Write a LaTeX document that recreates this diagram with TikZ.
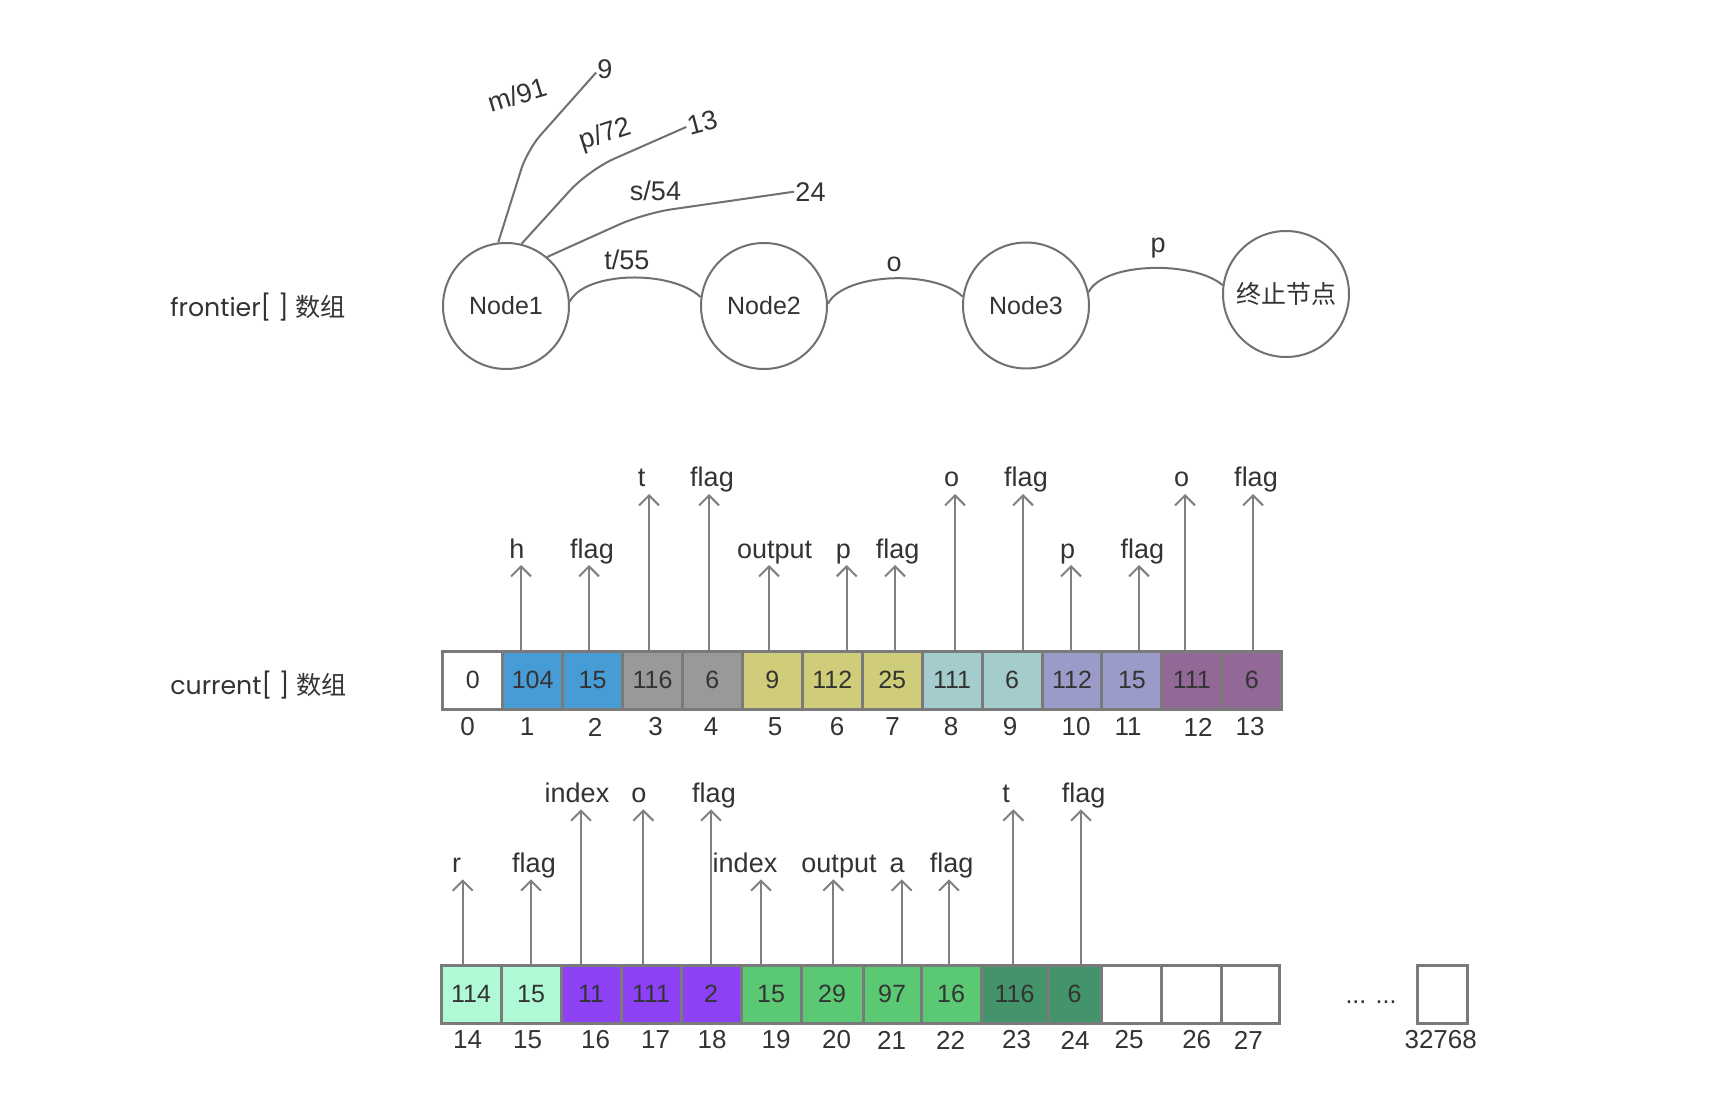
\documentclass[tikz,border=0pt]{standalone}
\usepackage{fontspec}
\setmainfont{Liberation Sans}
\newfontfamily\cjk{Noto Sans CJK SC}
\newfontfamily\popfont{Poppins}
\usepackage{tikz}
\usepackage{xcolor}
\usetikzlibrary{arrows.meta}

\definecolor{txt}{HTML}{333333}
\definecolor{cellgray}{HTML}{7A7A7A}
\definecolor{arrgray}{HTML}{808080}
\definecolor{edgegray}{HTML}{707070}
\definecolor{cblue}{HTML}{479CD5}
\definecolor{cgray}{HTML}{999999}
\definecolor{colive}{HTML}{CFCD79}
\definecolor{cteal}{HTML}{A5CCCC}
\definecolor{clav}{HTML}{9A9BC9}
\definecolor{cpurple}{HTML}{926896}
\definecolor{cmint}{HTML}{AFF9D4}
\definecolor{cviolet}{HTML}{8D41F5}
\definecolor{cgreen}{HTML}{5BC873}
\definecolor{cdkgreen}{HTML}{43946A}

\begin{document}
\begin{tikzpicture}[x=0.5pt,y=-0.5pt,
	cell/.style={draw=cellgray,line width=1.5pt,minimum height=29pt,inner sep=0pt,text=txt,font=\fontsize{12.5}{15}\selectfont},
	ptr/.style={draw=arrgray,line width=1pt,-{Straight Barb[length=5pt,width=10pt]}},
	lbl/.style={text=txt,font=\fontsize{13.5}{16}\selectfont,inner sep=0pt,anchor=base},
	idx/.style={text=txt,font=\fontsize{13}{16}\selectfont,inner sep=0pt},
	state/.style={circle,draw=edgegray,line width=1pt,minimum size=63pt,inner sep=0pt,text=txt,font=\fontsize{12.5}{15}\selectfont},
	elbl/.style={text=txt,font=\fontsize{13.5}{16}\selectfont,inner sep=0.5pt},
	side/.style={text=txt,font=\popfont\fontsize{12.6}{15}\selectfont,inner sep=0pt,anchor=west}]
		%Page
			\fill[white] (0,0) rectangle (1736,1118);
			\useasboundingbox (0,0) rectangle (1736,1118);
		%Array names
			\node[side] (frontier) at (170,306.7) {frontier[ ] {\cjk 数组}};
			\node[side] (current) at (170,685) {current[ ] {\cjk 数组}};
		%States
			\node[state] (n1) at (506,306) {Node1};
			\node[state] (n2) at (764,306) {Node2};
			\node[state] (n3) at (1026,305.5) {Node3};
			\node[state] (n4) at (1286,294) {\cjk 终止节点};
		%Edge labels
			\node[elbl,rotate=17] (lm) at (517,95) {m/91};
			\node[elbl] (l9) at (605,69.3) {9};
			\node[elbl,rotate=18] (lp) at (605.8,135) {p/72};
			\node[elbl,rotate=15] (l13) at (702.2,122.7) {13};
			\node[elbl] (ls) at (655.5,190.7) {s/54};
			\node[elbl] (l24) at (810.5,191.7) {24};
			\node[elbl] (lt) at (626.8,260) {t/55};
			\node[elbl] (lo) at (894,264) {o};
			\node[elbl] (lpp) at (1158,248) {p};
		%Edges
			\draw[edgegray,line width=1pt,rounded corners=10pt] (n1.97) -- (527.3,150) -- (l9.200);
			\draw[edgegray,line width=1pt,rounded corners=14pt] (n1.76) -- (588.6,170) -- (l13.west);
			\draw[edgegray,line width=1pt,rounded corners=14pt] (n1.50) -- (644,213.3) -- (l24.west);
			\draw[edgegray,line width=1pt] (n1.4) .. controls +(15,-30) and +(-30,-28) .. (n2.172);
			\draw[edgegray,line width=1pt] (n2.2) .. controls +(15,-30) and +(-30,-28) .. (n3.172);
			\draw[edgegray,line width=1pt] (n3.12) .. controls +(15,-30) and +(-30,-25) .. (n4.172);
		%current[] first row
			\foreach \v/\c [count=\i from 0] in {0/white,104/cblue,15/cblue,116/cgray,6/cgray,9/colive,112/colive,25/colive,111/cteal,6/cteal,112/clav,15/clav,111/cpurple,6/cpurple}
			{
				\node[cell,fill=\c,minimum width=29.97pt] (c\i) at (472.7+59.93*\i,680) {\v};
			}
		%current[] second row
			\foreach \l/\r/\v/\c [count=\i from 14] in {441/501/114/cmint,501/561/15/cmint,561/621/11/cviolet,621/681/111/cviolet,681/741/2/cviolet,741/801/15/cgreen,801/863/29/cgreen,863/921/97/cgreen,921/981/16/cgreen,981/1048/116/cdkgreen,1048/1101/6/cdkgreen,1101/1161//white,1161/1221//white,1221/1279//white}
			{
				\pgfmathsetmacro\w{(\r-\l)*0.5}
				\node[cell,fill=\c,minimum width=\w pt] (c\i) at ({(\l+\r)/2},994) {\v};
			}
			\node[cell,fill=white,minimum width=25pt] (clast) at (1442,994) {};
			\node[text=txt,font=\fontsize{12.5}{15}\selectfont,inner sep=0pt,anchor=base] (dots) at (1371,1003) {... ...};
		%Indices
			\foreach \x [count=\i from 0] in {467.7,527,595,655.7,711,775,837,892.7,951,1010,1076,1128,1198,1250}
			{
				\node[idx] (i\i) at (\x,727) {\i};
			}
			\foreach \x [count=\i from 14] in {467.7,527.7,595.7,655.7,712,776,836.7,891.7,950.7,1016.7,1075,1129,1196.7,1248.3}
			{
				\node[idx] (i\i) at (\x,1040) {\i};
			}
			\node[idx] (ilast) at (1440.7,1040) {32768};
		%Pointers
			\foreach \i/\ax/\tip/\t/\lx in {1/521/565/h/517,2/589/565/flag/592,3/649/494/t/641.7,4/709/494/flag/712,5/769/565/output/774.7,6/846.7/565/p/843.3,7/895/565/flag/897.7,8/955/494/o/951.7,9/1023/494/flag/1026,10/1071/565/p/1067.7,11/1139/565/flag/1142.3,12/1185/494/o/1181.7,13/1253/494/flag/1256,14/462.7/879.3/r/456.7,15/531/879.3/flag/534,16/581/809.3/index/577,17/643.3/809.3/o/639,18/711/809.3/flag/714,19/761/879.3/index/745,20/833.3/879.3/output/839,21/901.7/879.3/a/897,22/949/879.3/flag/951.7,23/1013.3/809.3/t/1006,24/1081/809.3/flag/1083.7}
			{
				\coordinate (tip\i) at (\ax,\tip);
				\node[lbl] (lab\i) at (\lx,\tip-7) {\t};
				\draw[ptr] (c\i.north -| tip\i) -- (tip\i);
			}
\end{tikzpicture}
\end{document}
